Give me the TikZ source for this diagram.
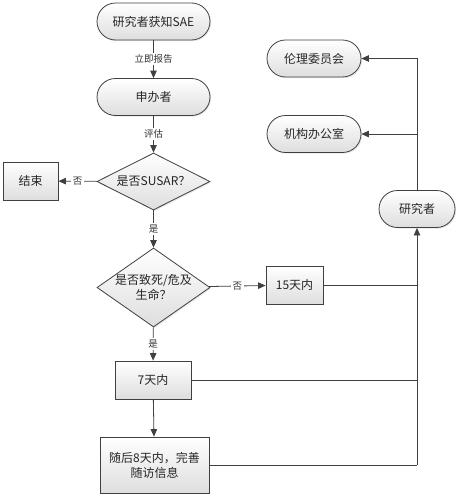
\documentclass[tikz,border=0pt]{standalone}
\usepackage{fontspec}
\setmainfont{Noto Sans CJK SC}
\usetikzlibrary{shapes.geometric,shadows,arrows.meta}
\definecolor{edge}{HTML}{404040}
\begin{document}
\begin{tikzpicture}[x=1pt,y=-1pt,
  txt/.style={font=\fontsize{12}{15}\selectfont, text=black!85, align=center},
  base/.style={draw=edge, line width=0.8pt, top color=white, bottom color=black!13,
    drop shadow={shadow xshift=1.2pt, shadow yshift=-1.2pt, fill=black!18},
    txt, inner sep=0pt},
  pill/.style={base, rounded corners=18.5pt, minimum width=113pt, minimum height=37pt},
  boxnode/.style={base, minimum height=38pt},
  dia/.style={base, diamond, minimum width=113pt},
  arr/.style={draw=edge, line width=0.8pt, -{Triangle[length=7.5pt,width=6.5pt]}},
  ln/.style={draw=edge, line width=0.8pt},
  lab/.style={fill=white, inner sep=1.5pt, font=\fontsize{9.5}{11}\selectfont, text=black!80}
]
\useasboundingbox (0,0) rectangle (460,498);
\node[pill] (sae) at (153.5,21.5) {研究者获知SAE};
\node[pill] (spon) at (153.5,97) {申办者};
\node[dia, minimum height=57pt, label={[txt]center:是否SUSAR？}] (susar) at (153.5,181.5) {};
\node[boxnode, minimum width=55pt] (end) at (30.5,181) {结束};
\node[dia, minimum height=79pt, label={[txt]center:是否致死/危及\\生命？}] (death) at (153.5,287.5) {};
\node[boxnode, minimum width=57pt] (d15) at (294.5,285) {15天内};
\node[boxnode, minimum width=76pt] (d7) at (153,380) {7天内};
\node[boxnode, minimum width=109pt, minimum height=56pt] (d8) at (154.5,465) {随后8天内，完善\\随访信息};
\node[pill, minimum width=76pt] (res) at (417,209) {研究者};
\node[pill, minimum width=94pt] (eth) at (314,58.5) {伦理委员会};
\node[pill, minimum width=94pt] (inst) at (314,134) {机构办公室};

\draw[arr] (sae) -- node[lab] {立即报告} (spon);
\draw[arr] (spon) -- node[lab] {评估} (susar);
\draw[arr] (susar) -- node[lab] {否} (end);
\draw[arr] (susar) -- node[lab] {是} (death);
\draw[arr] (death) -- node[lab] {否} (d15);
\draw[arr] (death) -- node[lab] {是} (d7);
\draw[arr] (d7) -- (d8);
\coordinate (j8) at (d8.east -| res);
\draw[ln] (d8.east) -- (j8);
\draw[ln] (d7.east) -- (d7.east -| res);
\draw[ln] (d15.east) -- (d15.east -| res);
\draw[arr] (j8) -- (res.south);
\draw[arr] (res.north) |- (eth.east);
\draw[arr] (res.north |- inst.east) -- (inst.east);
\end{tikzpicture}
\end{document}
